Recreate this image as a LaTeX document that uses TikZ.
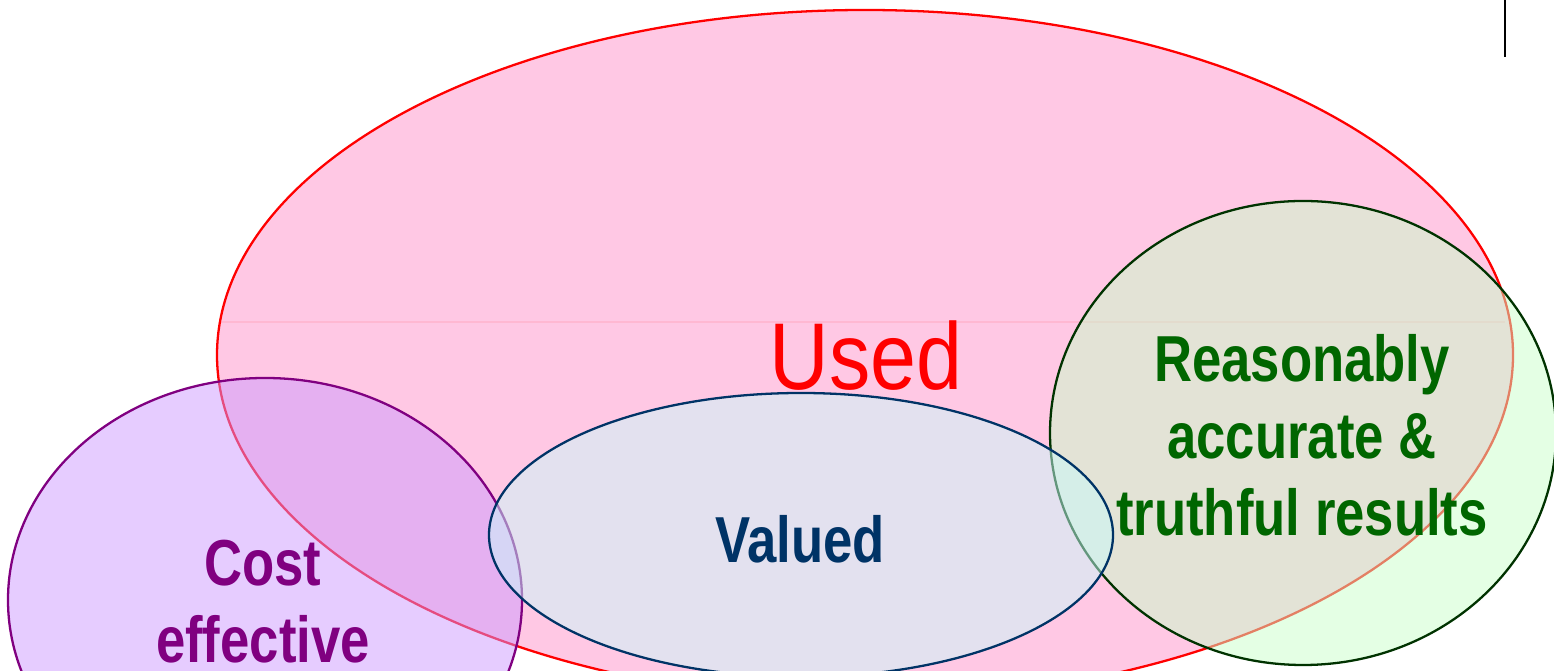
\documentclass[tikz,border=0pt]{standalone}
\usepackage{fontspec}
\setmainfont{Liberation Sans}[FakeStretch=0.81]
\newfontfamily\usedfont{Liberation Sans}[FakeStretch=0.87]
\usepackage{xcolor}
\usepackage{tikz}
\usetikzlibrary{calc}

\definecolor{usedfill}{RGB}{255,200,228}
\definecolor{usedline}{RGB}{255,0,0}
\definecolor{costfill}{RGB}{205,153,255}
\definecolor{costline}{RGB}{128,0,128}
\definecolor{accfill}{RGB}{201,255,201}
\definecolor{accline}{RGB}{0,51,0}
\definecolor{acctext}{RGB}{0,102,0}
\definecolor{valfill}{RGB}{200,250,250}
\definecolor{valline}{RGB}{0,51,102}

\tikzset{
  setline/.style={line width=0.65pt},
  smalltext/.style={font=\bfseries\fontsize{18.5}{21.9}\selectfont, align=center, inner sep=0pt},
}

\begin{document}
\begin{tikzpicture}
        \useasboundingbox (0,0) rectangle (15.54,-6.71);
        %KOORDINAT
        \coordinate (U) at (8.65,-3.55);
        \coordinate (C) at (2.65,-6.00);
        \coordinate (A) at (13.03,-4.33);
        \coordinate (V) at (8.01,-5.35);
        %USED
        \fill[usedfill] (U) ellipse [x radius=6.48, y radius=3.45];
        \draw[usedfill!85!red, line width=0.3pt, opacity=0.5] (2.20,-3.22) -- (15.05,-3.22);
        \draw[setline, usedline] (U) ellipse [x radius=6.48, y radius=3.45];
        %COST
        \draw[setline, draw=costline, fill=costfill, fill opacity=0.5] (C) ellipse [x radius=2.57, y radius=2.22];
        %ACCURATE
        \draw[setline, draw=accline, fill=accfill, fill opacity=0.5] (A) ellipse [x radius=2.53, y radius=2.32];
        %VALUED
        \draw[setline, draw=valline, fill=valfill, fill opacity=0.5] (V) ellipse [x radius=3.12, y radius=1.42];
        %GARIS
        \draw[line width=0.7pt] (15.05,0) -- (15.05,-0.57);
        %TEKS
        \node[anchor=base, inner sep=0pt, font=\usedfont\fontsize{27}{32}\selectfont, text=usedline] (used) at (8.66,-3.90) {Used};
        \node[smalltext, anchor=base, text=valline] (valued) at (8.00,-5.63) {Valued};
        \node[smalltext, text=costline] (cost) at (2.63,-6.02) {Cost\\effective};
        \node[smalltext, text=acctext] (accurate) at (13.02,-4.35) {Reasonably\\accurate \&\\truthful results};
    \end{tikzpicture}
\end{document}
